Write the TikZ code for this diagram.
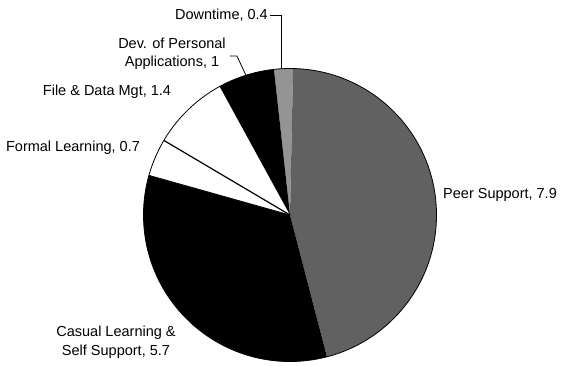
\documentclass[tikz,border=0pt]{standalone}
\usepackage{fontspec}
\setmainfont{Liberation Sans}
\begin{document}
\begin{tikzpicture}[x=1pt,y=1pt,
  lbl/.style={font=\fontsize{14.5}{18.5}\selectfont, inner sep=0pt, align=center},
  leader/.style={draw=black, line width=0.8pt},
  slice/.style={draw=black, line width=0.8pt, line join=round}]
\useasboundingbox (0,0) rectangle (565,365);
\def\R{146.5}
\begin{scope}[shift={(290,150)}]
  \coordinate (c) at (0,0);
  % Downtime
  \fill[black!42] (c) -- (96.3:\R) arc[start angle=96.3, end angle=88.8, radius=\R] -- cycle;
  % Peer Support
  \fill[black!62] (c) -- (88.8:\R) arc[start angle=88.8, end angle=-75.4, radius=\R] -- cycle;
  % Casual Learning
  \fill[black] (c) -- (-75.4:\R) arc[start angle=-75.4, end angle=-195.7, radius=\R] -- cycle;
  % Formal Learning
  \fill[white] (c) -- (164.3:\R) arc[start angle=164.3, end angle=149.4, radius=\R] -- cycle;
  % File & Data
  \fill[white] (c) -- (149.4:\R) arc[start angle=149.4, end angle=118.7, radius=\R] -- cycle;
  % Dev
  \fill[black] (c) -- (118.7:\R) arc[start angle=118.7, end angle=96.3, radius=\R] -- cycle;
  \draw[slice] (c) circle[radius=\R];
  \draw[slice, line width=1.2pt] (c) -- (149.4:\R);
  \draw[slice] (c) -- (164.3:\R);
  \coordinate (pd) at (93.5:\R);
  \coordinate (pv) at (107.5:\R);
\end{scope}
\node[lbl, anchor=east] (downtime) at (268,350) {Downtime, 0.4};
\node[lbl] (dev) at (172,311) {Dev. of Personal\\Applications, 1};
\node[lbl] (file) at (107,273) {File \& Data Mgt, 1.4};
\node[lbl] (formal) at (73,217) {Formal Learning, 0.7};
\node[lbl, anchor=west] (peer) at (443,170) {Peer Support, 7.9};
\node[lbl] (casual) at (116,23) {Casual Learning \&\\Self Support, 5.7};
\draw[leader] ([xshift=2pt]downtime.east) -- (pd |- downtime.east) -- (pd);
\draw[leader] ([xshift=4pt,yshift=-2pt]dev.east) -- ++(7,0) -- (pv);
\end{tikzpicture}
\end{document}
